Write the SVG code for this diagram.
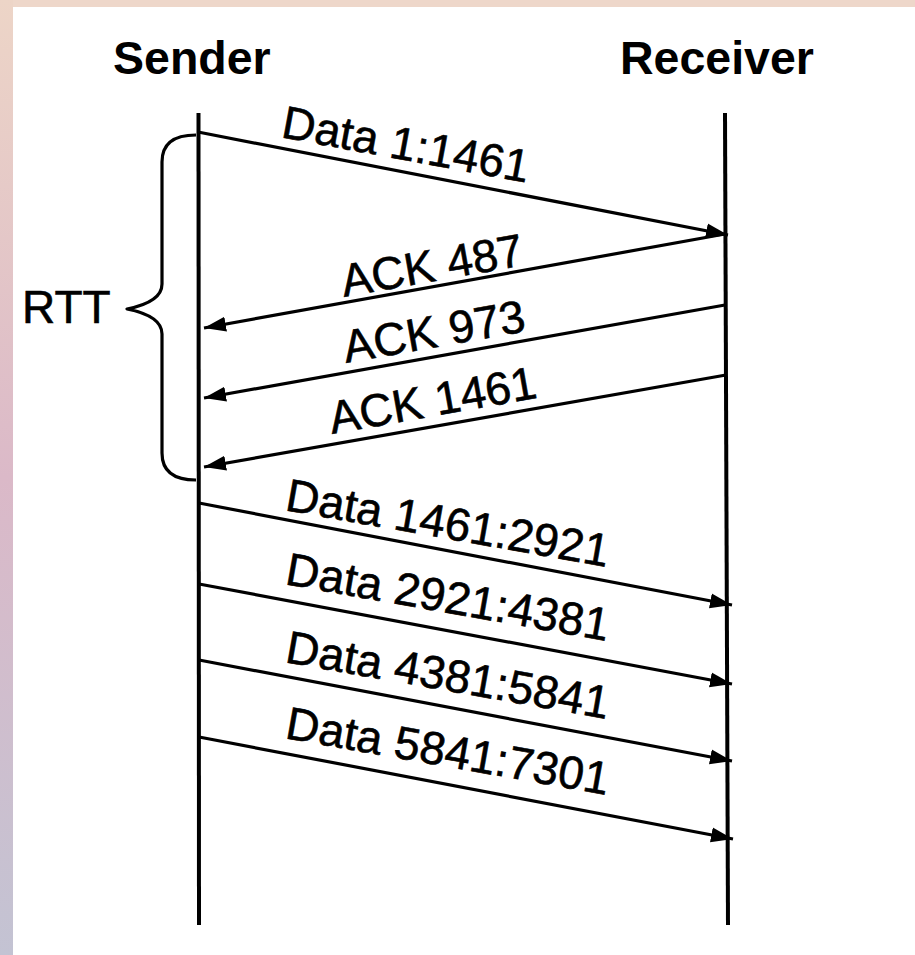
<svg xmlns="http://www.w3.org/2000/svg" width="915" height="955" viewBox="0 0 915 955">
  <defs>
    <linearGradient id="sideGrad" x1="0" y1="0" x2="0" y2="1">
      <stop offset="0" stop-color="#edd5c7"/>
      <stop offset="0.5" stop-color="#dbb9c8"/>
      <stop offset="1" stop-color="#c3c3d3"/>
    </linearGradient>
    <marker id="arrow" markerUnits="userSpaceOnUse" markerWidth="26" markerHeight="20" refX="22" refY="10" orient="auto">
      <path d="M0,2.5 L22,10 L0,17.5 Z" fill="#000"/>
    </marker>
    <style>
      .lbl { font-family: "Liberation Sans", Arial, sans-serif; font-size: 46px; fill: #000; stroke: #000; stroke-width: 0.6px; }
      .hdr { font-family: "Liberation Sans", Arial, sans-serif; font-size: 46.5px; font-weight: bold; fill: #000; }
      .life { stroke: #000; stroke-width: 4; fill: none; }
      .msg { stroke: #000; stroke-width: 3.2; fill: none; marker-end: url(#arrow); }
      .brace { stroke: #000; stroke-width: 3.2; fill: none; stroke-linejoin: round; }
    </style>
  </defs>

  <rect x="0" y="0" width="915" height="955" fill="#ffffff"/>
  <rect x="0" y="0" width="915" height="7" fill="#eed7ca"/>
  <rect x="0" y="0" width="13" height="955" fill="url(#sideGrad)"/>

  <g id="sender">
    <text class="hdr" x="113" y="74">Sender</text>
    <line class="life" x1="198.5" y1="113" x2="199" y2="925"/>
  </g>

  <g id="receiver">
    <text class="hdr" x="620" y="74">Receiver</text>
    <line class="life" x1="725" y1="113" x2="728" y2="925"/>
  </g>

  <g id="rtt">
    <path class="brace" d="M196,135 Q162,135 162,162 L162,284 Q162,302 127,309 Q162,316 162,334 L162,453 Q162,480 196,480"/>
    <text class="lbl" x="22" y="323">RTT</text>
  </g>

  <g id="connectors">
    <line class="msg" x1="198" y1="132" x2="728" y2="235"/>
    <line class="msg" x1="725" y1="234" x2="204" y2="328"/>
    <line class="msg" x1="725" y1="305" x2="204" y2="398"/>
    <line class="msg" x1="726" y1="375" x2="204" y2="467"/>
    <line class="msg" x1="199" y1="503" x2="732" y2="605"/>
    <line class="msg" x1="199" y1="584" x2="732" y2="684"/>
    <line class="msg" x1="199" y1="660" x2="732" y2="761"/>
    <line class="msg" x1="199" y1="737" x2="733" y2="839"/>
  </g>

  <g id="labels">
    <text class="lbl" transform="translate(280,137) rotate(10.5)">Data 1:1461</text>
    <text class="lbl" transform="translate(344,297) rotate(-10)">ACK 487</text>
    <text class="lbl" transform="translate(346,363) rotate(-10)">ACK 973</text>
    <text class="lbl" transform="translate(332,434) rotate(-10)">ACK 1461</text>
    <text class="lbl" transform="translate(284,510) rotate(10)">Data 1461:2921</text>
    <text class="lbl" transform="translate(284,584) rotate(10)">Data 2921:4381</text>
    <text class="lbl" transform="translate(284,662) rotate(10)">Data 4381:5841</text>
    <text class="lbl" transform="translate(284,738) rotate(10)">Data 5841:7301</text>
  </g>
</svg>
